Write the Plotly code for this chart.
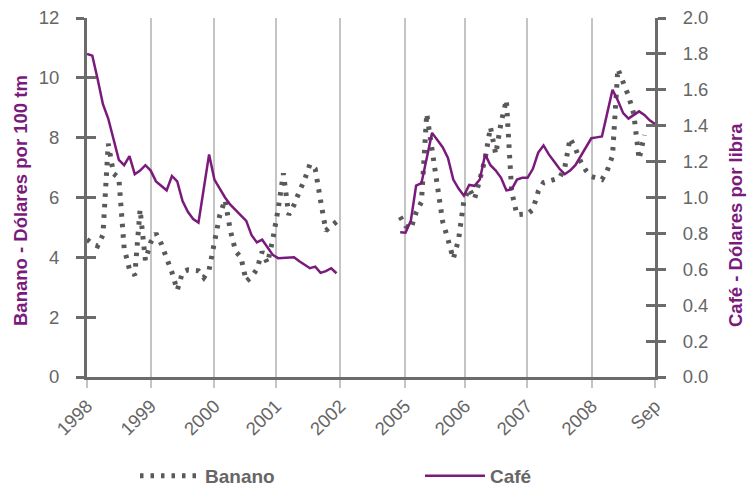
import plotly.graph_objects as go

# ---- data (monthly positions; 1998-2001, gap, 2005-Sep 2008) ----
banano_9801 = [4.6, 4.45, 4.38, 4.75, 7.8, 6.8, 6.65, 4.3, 3.6, 3.4,
               5.6, 3.9, 4.5, 4.8, 4.45, 4.0, 3.5, 2.9, 3.5, 3.58,
               3.58, 3.55, 3.32, 3.58, 4.5, 5.4, 5.92, 4.9, 4.2, 4.0,
               3.2, 3.35, 3.6, 4.19, 3.8, 4.6, 5.6, 6.81, 5.42, 5.75,
               6.2, 6.6, 7.11, 6.95, 5.9, 4.89, 5.05, 5.19]
cafe_9801 = [1.80, 1.79, 1.66, 1.52, 1.44, 1.32, 1.21, 1.18, 1.23, 1.13,
             1.15, 1.18, 1.15, 1.09, 1.065, 1.04, 1.12, 1.09, 0.98, 0.92,
             0.88, 0.86, 1.05, 1.24, 1.10, 1.05, 1.00, 0.96, 0.93, 0.90,
             0.87, 0.79, 0.75, 0.765, 0.72, 0.68, 0.662, 0.663, 0.665, 0.667,
             0.645, 0.625, 0.606, 0.615, 0.58, 0.59, 0.606, 0.578]
banano_0508 = [5.36, 5.05, 4.95, 5.5, 5.85, 8.8, 7.6, 6.3, 5.2, 4.6,
               3.95, 4.6, 5.9, 6.3, 5.95, 6.6, 7.3, 8.35, 7.45, 8.5,
               9.26, 6.2, 5.42, 5.44, 5.45, 5.6, 6.2, 6.5, 6.56, 6.58,
               6.65, 7.0, 7.98, 7.64, 7.2, 6.9, 6.7, 6.65, 6.6, 6.9,
               7.4, 10.3, 9.9, 9.4, 8.8, 7.28, 8.09]
cafe_0508 = [0.806, 0.804, 0.87, 1.066, 1.08, 1.22, 1.36, 1.32, 1.28, 1.22,
             1.10, 1.05, 1.01, 1.07, 1.065, 1.10, 1.24, 1.18, 1.15, 1.11,
             1.04, 1.045, 1.10, 1.11, 1.11, 1.16, 1.25, 1.29, 1.24, 1.20,
             1.16, 1.13, 1.15, 1.18, 1.23, 1.28, 1.33, 1.335, 1.34, 1.47,
             1.60, 1.54, 1.47, 1.44, 1.46, 1.48, 1.46, 1.43, 1.41]

tick_pos = [0, 12, 24, 35.6, 47.7, 59.9, 71.2, 82.9, 95.1, 107]
tick_labels = ["1998", "1999", "2000", "2001", "2002", "2005", "2006", "2007", "2008", "Sep"]
left_title = "Banano - Dólares por 100 tm"
right_title = "Café - Dólares por libra"

seg2_start = 59
x1 = list(range(len(banano_9801)))
x2b = list(range(seg2_start, seg2_start + len(banano_0508)))
x2c = list(range(seg2_start, seg2_start + len(cafe_0508)))

PURPLE = "#7a1b7c"
GRAY = "#595959"
AXIS = "#6b6b6b"
LABEL = "#666666"
FONT = "Liberation Sans, Arial, sans-serif"
TICK_SIZE = 18.5

# plot-area geometry (px)
L, R, T, B = 87, 93, 18, 113
PW, PH = 748 - L - R, 490 - T - B

def px_x(p):
    return (p - L) / PW

def px_y(p):
    return (490 - B - p) / PH

fig = go.Figure()
fig.add_trace(go.Scatter(
    x=x1 + [None] + x2b, y=banano_9801 + [None] + banano_0508,
    mode="lines", name="Banano", connectgaps=False, legend="legend",
    line=dict(color=GRAY, width=5, dash="3.5px,7px"), yaxis="y"))
fig.add_trace(go.Scatter(
    x=x1 + [None] + x2c, y=cafe_9801 + [None] + cafe_0508,
    mode="lines", name="Café", connectgaps=False, legend="legend2",
    line=dict(color=PURPLE, width=2.5), yaxis="y2"))
# helper traces for the inner halves of the crossing tick marks
fig.add_trace(go.Scatter(x=[], y=[], yaxis="y3", showlegend=False, hoverinfo="skip"))
fig.add_trace(go.Scatter(x=[], y=[], yaxis="y4", showlegend=False, hoverinfo="skip"))

tickfont = dict(size=TICK_SIZE, color=LABEL, family=FONT)
legfont = dict(size=19, color=LABEL, family=FONT, weight="bold")
titlefont = dict(size=18.5, color=PURPLE, family=FONT, weight="bold")

fig.update_layout(
    width=748, height=490,
    margin=dict(l=L, r=R, t=T, b=B, autoexpand=False),
    paper_bgcolor="white", plot_bgcolor="white",
    font=dict(family=FONT, size=16, color=LABEL),
    xaxis=dict(range=[0, 107], tickmode="array", tickvals=tick_pos, ticktext=tick_labels,
               tickangle=-45, showgrid=True, gridcolor="#c4c4c4", gridwidth=1.5,
               ticks="outside", ticklen=8, tickcolor="#c4c4c4", tickwidth=1.5,
               showline=True, linecolor=AXIS, linewidth=3, zeroline=False,
               automargin=False, tickfont=tickfont),
    yaxis=dict(range=[0, 12], dtick=2, showgrid=False, zeroline=False,
               showline=True, linecolor=AXIS, linewidth=3,
               ticks="outside", ticklen=8, tickwidth=2.5, tickcolor=AXIS,
               ticklabelstandoff=13, automargin=False, tickfont=tickfont),
    yaxis2=dict(range=[0, 2], dtick=0.2, tickformat=".1f", overlaying="y", side="right",
                showgrid=False, zeroline=False,
                showline=True, linecolor=AXIS, linewidth=3,
                ticks="outside", ticklen=8, tickwidth=2.5, tickcolor=AXIS,
                ticklabelstandoff=13, automargin=False, tickfont=tickfont),
    yaxis3=dict(range=[0, 12], dtick=2, overlaying="y", side="left", anchor="x",
                showgrid=False, zeroline=False, showline=False, showticklabels=False,
                ticks="inside", ticklen=9, tickwidth=2.5, tickcolor=AXIS, automargin=False),
    yaxis4=dict(range=[0, 2], dtick=0.2, overlaying="y", side="right", anchor="x",
                showgrid=False, zeroline=False, showline=False, showticklabels=False,
                ticks="inside", ticklen=9, tickwidth=2.5, tickcolor=AXIS, automargin=False),
    legend=dict(orientation="h", x=px_x(135), xanchor="left",
                y=px_y(476), yanchor="middle", itemwidth=60,
                font=legfont, bgcolor="rgba(0,0,0,0)"),
    legend2=dict(orientation="h", x=px_x(420), xanchor="left",
                 y=px_y(476), yanchor="middle", itemwidth=60,
                 font=legfont, bgcolor="rgba(0,0,0,0)"),
    showlegend=True,
    annotations=[
        dict(text=left_title, xref="paper", yref="paper", x=px_x(20), y=px_y(201),
             xanchor="center", yanchor="middle", textangle=-90, showarrow=False,
             font=titlefont),
        dict(text=right_title, xref="paper", yref="paper", x=px_x(736), y=px_y(225),
             xanchor="center", yanchor="middle", textangle=-90, showarrow=False,
             font=titlefont),
    ],
)

fig.write_html("out.html", config={"displayModeBar": False},
               post_script="document.body.style.margin='0';")
